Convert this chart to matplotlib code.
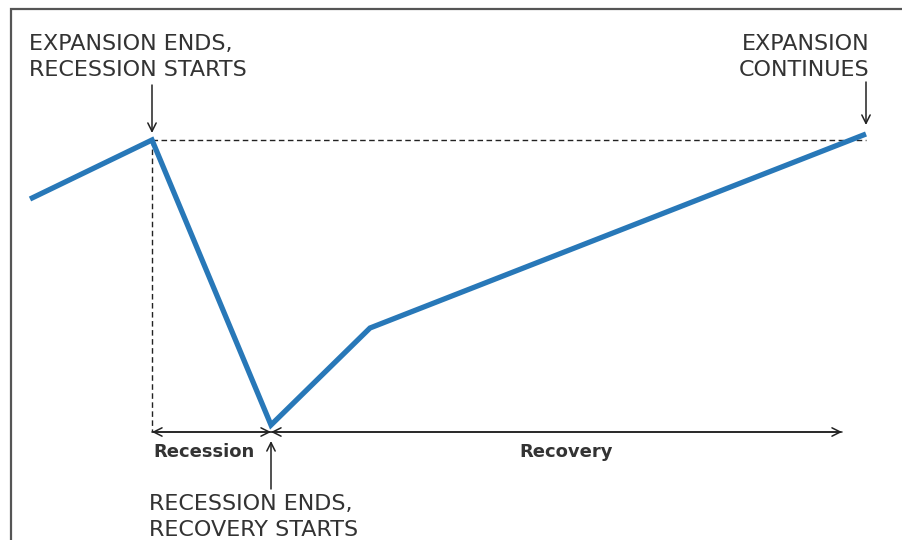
import matplotlib.pyplot as plt

# business cycle path (x = time, y = level, in picture units, y grows downward)
cycle_x = [30, 152, 271, 370, 866]
cycle_y = [199, 140, 425, 328, 134]
peak_label = "EXPANSION ENDS,\nRECESSION STARTS"
trough_label = "RECESSION ENDS,\nRECOVERY STARTS"
end_label = "EXPANSION\nCONTINUES"
phase_labels = ["Recession", "Recovery"]

plt.rcParams['font.family'] = ['DejaVu Sans']
fig = plt.figure(figsize=(9.02, 5.40), dpi=100)
ax = fig.add_axes([0, 0, 1, 1])
ax.set_xlim(0, 902)
ax.set_ylim(540, 0)
ax.axis("off")

txt = "#333333"
# frame
ax.plot([11, 11, 902], [540, 9, 9], color="#555555", lw=1.6, solid_joinstyle="miter")

peak_x, peak_y = cycle_x[1], cycle_y[1]
trough_x, trough_y = cycle_x[2], cycle_y[2]
# dashed guides
ax.plot([peak_x, cycle_x[-1]], [peak_y, peak_y], color="#222222", lw=1.0, dashes=(4, 2.5))
ax.plot([peak_x, peak_x], [peak_y, 432], color="#222222", lw=1.0, dashes=(4, 2.5))

ax.plot(cycle_x, cycle_y, color="#2878b8", lw=3.8, solid_joinstyle="miter", solid_capstyle="butt")

arrow = dict(arrowstyle="->,head_length=0.6,head_width=0.3", color="#222222", lw=1.1,
             shrinkA=0, shrinkB=0)
# phase arrows
ax.annotate("", xy=(peak_x, 432), xytext=(trough_x, 432), arrowprops=arrow)
ax.annotate("", xy=(trough_x, 432), xytext=(peak_x, 432), arrowprops=arrow)
ax.annotate("", xy=(trough_x, 432), xytext=(842, 432), arrowprops=arrow)
ax.annotate("", xy=(842, 432), xytext=(trough_x, 432), arrowprops=arrow)
# callout arrows
ax.annotate("", xy=(peak_x, 133), xytext=(peak_x, 85), arrowprops=arrow)
ax.annotate("", xy=(cycle_x[-1], 125), xytext=(cycle_x[-1], 82), arrowprops=arrow)
ax.annotate("", xy=(trough_x, 441), xytext=(trough_x, 489), arrowprops=arrow)

big = dict(fontsize=16, color=txt, va="center", linespacing=1.42)
ax.text(29, 57, peak_label, ha="left", **big)
ax.text(869, 57, end_label, ha="right", **big)
ax.text(149, 517, trough_label, ha="left", **big)
ax.text(153, 452, phase_labels[0], fontsize=13, fontweight="bold", color=txt, ha="left", va="center")
ax.text(519, 452, phase_labels[1], fontsize=13, fontweight="bold", color=txt, ha="left", va="center")

fig.savefig("out.png", dpi=100)
